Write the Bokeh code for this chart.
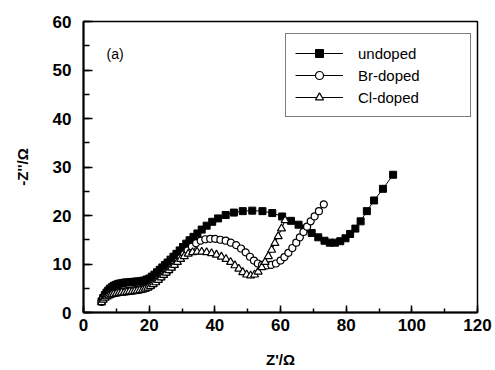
from bokeh.plotting import figure
from bokeh.models import (Range1d, SingleIntervalTicker, Legend, LegendItem, Label)
from bokeh.embed import file_html
from bokeh.resources import INLINE

# Nyquist data: Z' (real part) and -Z'' (imaginary part), in ohms
undoped_x = [5.5, 6.0, 6.5, 7.0, 7.5, 8.0, 8.6, 9.2, 9.8, 10.5, 11.2, 12.0, 12.8, 13.6, 14.4,
             15.2, 16.0, 16.8, 17.6, 18.4, 19.2, 20.0, 20.8, 21.6, 22.4, 23.2, 24.0, 24.8,
             25.6, 26.5, 27.4, 28.3, 29.3, 30.3, 31.3, 32.3, 33.5, 34.7, 36.0, 37.5, 39.2,
             41.0, 43.3, 45.8, 48.5, 51.4, 54.5, 57.5, 60.5, 63.2, 65.5, 67.5, 69.5, 71.5,
             73.4, 75.0, 76.6, 78.2, 79.8, 81.2, 82.8, 84.4, 86.3, 88.5, 91.2, 94.3]
undoped_y = [2.3, 3.0, 3.6, 4.1, 4.5, 4.9, 5.2, 5.5, 5.7, 5.9, 6.0, 6.1, 6.2, 6.2, 6.3,
             6.3, 6.4, 6.4, 6.5, 6.6, 6.8, 7.0, 7.4, 7.8, 8.3, 8.8, 9.3, 9.8,
             10.3, 10.9, 11.5, 12.1, 12.8, 13.5, 14.2, 14.9, 15.6, 16.3, 17.1, 17.9, 18.7,
             19.4, 20.1, 20.6, 20.9, 21.0, 20.9, 20.5, 19.8, 18.9, 18.1, 17.3, 16.4, 15.5,
             14.8, 14.4, 14.4, 14.7, 15.3, 16.2, 17.3, 18.8, 20.9, 23.1, 25.5, 28.4]

br_x = [5.5, 6.0, 6.6, 7.2, 7.8, 8.5, 9.2, 10.0, 10.8, 11.6, 12.4, 13.2, 14.0, 14.8, 15.6,
        16.4, 17.2, 18.0, 18.8, 19.6, 20.4, 21.2, 22.0, 22.8, 23.6, 24.4, 25.2, 26.0, 26.8,
        27.6, 28.5, 29.5, 30.6, 31.7, 33.0, 34.3, 35.7, 37.1, 38.6, 40.1, 41.7, 43.3, 44.9,
        46.5, 48.0, 49.4, 50.7, 51.9, 53.1, 54.4, 55.8, 57.2, 58.6, 60.0, 61.2, 62.4, 63.6,
        64.8, 65.9, 67.0, 68.1, 69.2, 70.4, 71.7, 73.2]
br_y = [2.2, 2.8, 3.2, 3.5, 3.7, 3.9, 4.0, 4.1, 4.2, 4.3, 4.3, 4.4, 4.4, 4.5, 4.6,
        4.6, 4.7, 4.8, 5.0, 5.2, 5.5, 5.9, 6.3, 6.8, 7.3, 7.8, 8.3, 8.8, 9.3,
        9.9, 10.5, 11.2, 12.0, 12.8, 13.6, 14.3, 14.8, 15.1, 15.2, 15.2, 15.0, 14.8, 14.4,
        13.9, 13.2, 12.4, 11.5, 10.7, 10.1, 9.8, 9.7, 9.8, 10.1, 10.7, 11.4, 12.3, 13.3,
        14.4, 15.5, 16.6, 17.7, 18.8, 19.8, 20.9, 22.3]

cl_x = [5.5, 6.0, 6.6, 7.2, 7.8, 8.5, 9.2, 10.0, 10.8, 11.6, 12.4, 13.2, 14.0, 14.8, 15.6,
        16.4, 17.2, 18.0, 18.8, 19.6, 20.4, 21.2, 22.0, 22.8, 23.6, 24.4, 25.2, 26.0, 26.8,
        27.7, 28.6, 29.6, 30.7, 31.9, 33.2, 34.6, 36.0, 37.5, 39.0, 40.5, 42.0, 43.4, 44.8,
        46.1, 47.3, 48.5, 49.7, 50.9, 52.1, 53.2, 54.3, 55.3, 56.3, 57.3, 58.3, 59.3, 60.3,
        61.4]
cl_y = [2.1, 2.6, 3.0, 3.3, 3.5, 3.7, 3.8, 3.9, 4.0, 4.1, 4.1, 4.2, 4.3, 4.3, 4.4,
        4.5, 4.6, 4.7, 4.9, 5.1, 5.4, 5.8, 6.2, 6.7, 7.2, 7.7, 8.2, 8.7, 9.2,
        9.8, 10.4, 11.0, 11.6, 12.1, 12.4, 12.5, 12.5, 12.4, 12.2, 11.9, 11.5, 11.0, 10.4,
        9.7, 9.0, 8.3, 7.8, 7.6, 7.8, 8.4, 9.3, 10.4, 11.6, 12.9, 14.3, 15.7, 17.3,
        19.0]

series_names = ["undoped", "Br-doped", "Cl-doped"]
panel_tag = "(a)"

FONT = "Liberation Sans"

p = figure(width=495, height=370, output_backend="svg", toolbar_location=None,
           x_range=Range1d(0, 120), y_range=Range1d(0, 60),
           min_border_left=83, min_border_right=18, min_border_top=21, min_border_bottom=57)
p.background_fill_color = "white"
p.border_fill_color = "white"
p.outline_line_color = "black"
p.outline_line_width = 1.5
p.xgrid.visible = False
p.ygrid.visible = False

p.xaxis.ticker = SingleIntervalTicker(interval=20, num_minor_ticks=2)
p.yaxis.ticker = SingleIntervalTicker(interval=10, num_minor_ticks=2)

for ax in (p.xaxis[0], p.yaxis[0]):
    ax.axis_line_width = 2
    ax.axis_line_color = "black"
    ax.major_tick_out = 0
    ax.minor_tick_out = 0
    ax.major_tick_line_width = 1.5
    ax.minor_tick_line_width = 1.5
    ax.major_label_text_font = FONT
    ax.major_label_text_font_style = "bold"
    ax.major_label_text_font_size = "17px"
    ax.major_label_text_color = "black"
    ax.axis_label_text_font = FONT
    ax.axis_label_text_font_style = "bold"
    ax.axis_label_text_font_size = "15px"
    ax.axis_label_text_color = "black"

p.xaxis.major_tick_in = 7
p.xaxis.minor_tick_in = 4
p.yaxis.major_tick_in = 9
p.yaxis.minor_tick_in = 6
p.xaxis.major_label_standoff = 6
p.yaxis.major_label_standoff = 12
p.xaxis.axis_label = "Z'/Ω"
p.yaxis.axis_label = "-Z''/Ω"
p.xaxis.axis_label_standoff = 17
p.yaxis.axis_label_standoff = 19

# undoped: filled squares
l1 = p.line(undoped_x, undoped_y, line_color="black", line_width=1)
s1 = p.scatter(undoped_x, undoped_y, marker="square", size=7, fill_color="black",
               line_color="black")
# Br-doped: open circles
l2 = p.line(br_x, br_y, line_color="black", line_width=1)
s2 = p.scatter(br_x, br_y, marker="circle", size=7, fill_color="white",
               line_color="black", line_width=1.2)
# Cl-doped: open triangles
l3 = p.line(cl_x, cl_y, line_color="black", line_width=1)
s3 = p.scatter(cl_x, cl_y, marker="triangle", size=8, fill_color="white",
               line_color="black", line_width=1.2)

legend = Legend(items=[
    LegendItem(label=series_names[0], renderers=[l1, s1]),
    LegendItem(label=series_names[1], renderers=[l2, s2]),
    LegendItem(label=series_names[2], renderers=[l3, s3]),
], location=(202, 195))
legend.border_line_color = "black"
legend.border_line_width = 1.5
legend.background_fill_alpha = 1
legend.padding = 9
legend.spacing = 2
legend.margin = 0
legend.glyph_width = 48
legend.glyph_height = 20
legend.label_height = 20
legend.label_width = 103
legend.label_standoff = 15
legend.label_text_font = FONT
legend.label_text_font_size = "15px"
legend.label_text_color = "black"
p.add_layout(legend, "center")

p.add_layout(Label(x=7, y=53.4, text=panel_tag, text_font=FONT, text_font_size="14px",
                   text_baseline="middle", text_color="black"))

open("out.html", "w").write(file_html(p, INLINE))
